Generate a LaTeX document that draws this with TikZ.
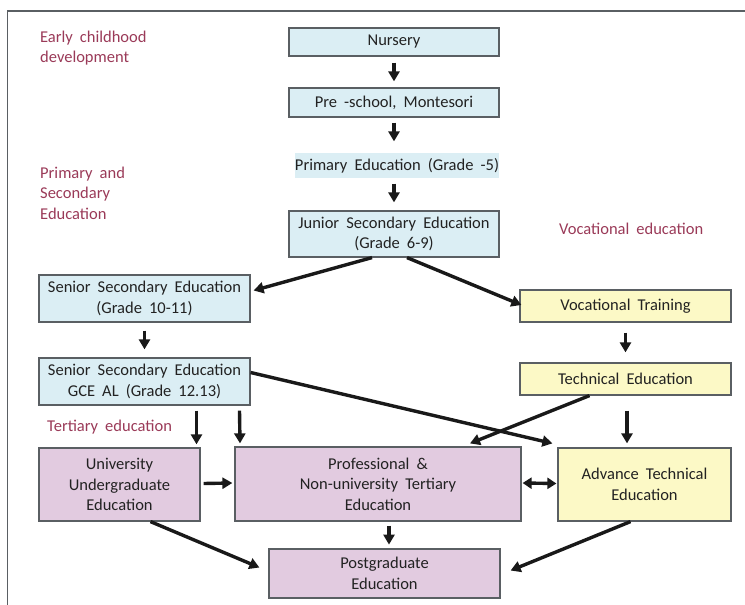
\documentclass[tikz,border=0pt]{standalone}
\usepackage{fontspec}
\setmainfont{Carlito}[WordSpace=1.9]
\usetikzlibrary{calc,arrows.meta}

\definecolor{boxblue}{HTML}{DBEEF4}
\definecolor{boxyellow}{HTML}{FCF9C6}
\definecolor{boxpurple}{HTML}{E2CBE0}
\definecolor{edgegray}{HTML}{5A5F63}
\definecolor{stagered}{HTML}{9A3A58}
\definecolor{inkdark}{HTML}{222222}

\tikzset{
  stage/.style={draw=edgegray, line width=1.2pt, align=center, inner sep=2pt,
    text=inkdark, font=\fontsize{16.5}{20.5}\selectfont},
  bluebox/.style={stage, fill=boxblue},
  yellowbox/.style={stage, fill=boxyellow},
  purplebox/.style={stage, fill=boxpurple},
  stagelabel/.style={anchor=west, align=left, inner sep=0pt, text=stagered,
    font=\fontsize{16.5}{20.5}\selectfont},
  flow/.style={draw=black!90, line width=3.4pt,
    -{Triangle[length=10pt,width=11pt]}},
  twoway/.style={draw=black!90, line width=3.4pt,
    {Triangle[length=9pt,width=11pt]}-{Triangle[length=9pt,width=11pt]}},
}

\begin{document}
\begin{tikzpicture}[x=1pt,y=-1pt]
\useasboundingbox (0,0) rectangle (745,605);

% outer frame
\draw[edgegray, line width=1.5pt] (7.5,620) -- (7.5,11) -- (760,11);

% stage labels
\node[stagelabel] (lecd) at (40,48) {Early childhood\\development};
\node[stagelabel] (lpse) at (40,193) {Primary and\\Secondary\\Education};
\node[stagelabel] (lvoc) at (559,229) {Vocational education};
\node[stagelabel] (lter) at (47,427) {Tertiary education};

% school track
\node[bluebox, minimum width=210pt, minimum height=28pt] (nur) at (394,42) {Nursery};
\node[bluebox, minimum width=210pt, minimum height=29pt] (pre) at (394,102.5) {Pre -school, Montesori};
\node[stage, draw=none, fill=boxblue, minimum width=203pt, minimum height=25pt, inner sep=0pt] (pri) at (397,165.5) {Primary Education (Grade -5)};
\node[bluebox, minimum width=210pt, minimum height=46pt] (jun) at (394,234) {Junior Secondary Education\\(Grade 6-9)};
\node[bluebox, minimum width=211pt, minimum height=47pt] (sen1) at (144.5,298.5) {Senior Secondary Education\\(Grade 10-11)};
\node[bluebox, minimum width=211pt, minimum height=47pt] (sen2) at (144.5,381.5) {Senior Secondary Education\\GCE AL (Grade 12.13)};

% vocational track
\node[yellowbox, minimum width=211pt, minimum height=32pt] (voc) at (625.5,306) {Vocational Training};
\node[yellowbox, minimum width=211pt, minimum height=32pt] (tec) at (625.5,379) {Technical Education};
\node[yellowbox, minimum width=173pt, minimum height=73pt] (adv) at (644.5,484.5) {Advance Technical\\Education};

% tertiary track
\node[purplebox, minimum width=161pt, minimum height=73pt] (uni) at (119.5,484.5) {University\\Undergraduate\\Education};
\node[purplebox, minimum width=286pt, minimum height=74pt] (pro) at (378,484) {Professional \&\\Non-university Tertiary\\Education};
\node[purplebox, minimum width=231pt, minimum height=49pt] (pg) at (384.5,573.5) {Postgraduate\\Education};

% early years and primary
\draw[flow] ($(nur.south)+(0,6)$) -- ($(pre.north)+(0,-6)$);
\draw[flow] ($(pre.south)+(0,5)$) -- ($(pre.south |- pri.north)+(0,-11)$);
\draw[flow] ($(pre.south |- pri.south)+(0,5)$) -- ($(jun.north)+(0,-8)$);

% split after junior secondary
\draw[flow] ($(jun.south)+(-22,0)$) -- ($(sen1.east)+(3,-8)$);
\draw[flow] ($(jun.south)+(13,0)$) -- ($(voc.west)+(2,-1)$);

% senior secondary
\draw[flow] ($(sen1.south)+(0,8)$) -- ($(sen2.north)+(0,-8)$);
\draw[flow] ($(sen2.south)+(52,5)$) -- ($(uni.north)+(77,-3)$);
\draw[flow] ($(sen2.south)+(95,5)$) -- ($(pro.north)+(-138,-3)$);
\draw[flow] ($(sen2.east)+(0,-9)$) -- ($(adv.north west)+(-5,-4)$);

% vocational
\draw[flow] ($(voc.south)+(0,10)$) -- ($(tec.north)+(0,-10)$);
\draw[flow] ($(tec.south)+(-36,0)$) -- ($(pro.north)+(92,-3)$);
\draw[flow] ($(tec.south)+(1.5,15)$) -- ($(adv.north)+(-17.5,-4)$);

% tertiary
\draw[flow] ($(uni.east)+(3,-1)$) -- ($(pro.west)+(-2,-1)$);
\draw[twoway] ($(pro.east)+(1,-1)$) -- ($(adv.west)+(-1,-1)$);
\draw[flow] ($(pro.south)+(11,4)$) -- ($(pro.south)+(11,23)$);
\draw[flow] ($(uni.south)+(31,0)$) -- ($(pg.west)+(-9,-6)$);
\draw[flow] ($(adv.south)+(-14,0)$) -- ($(pg.east)+(10,-3)$);
\end{tikzpicture}
\end{document}
